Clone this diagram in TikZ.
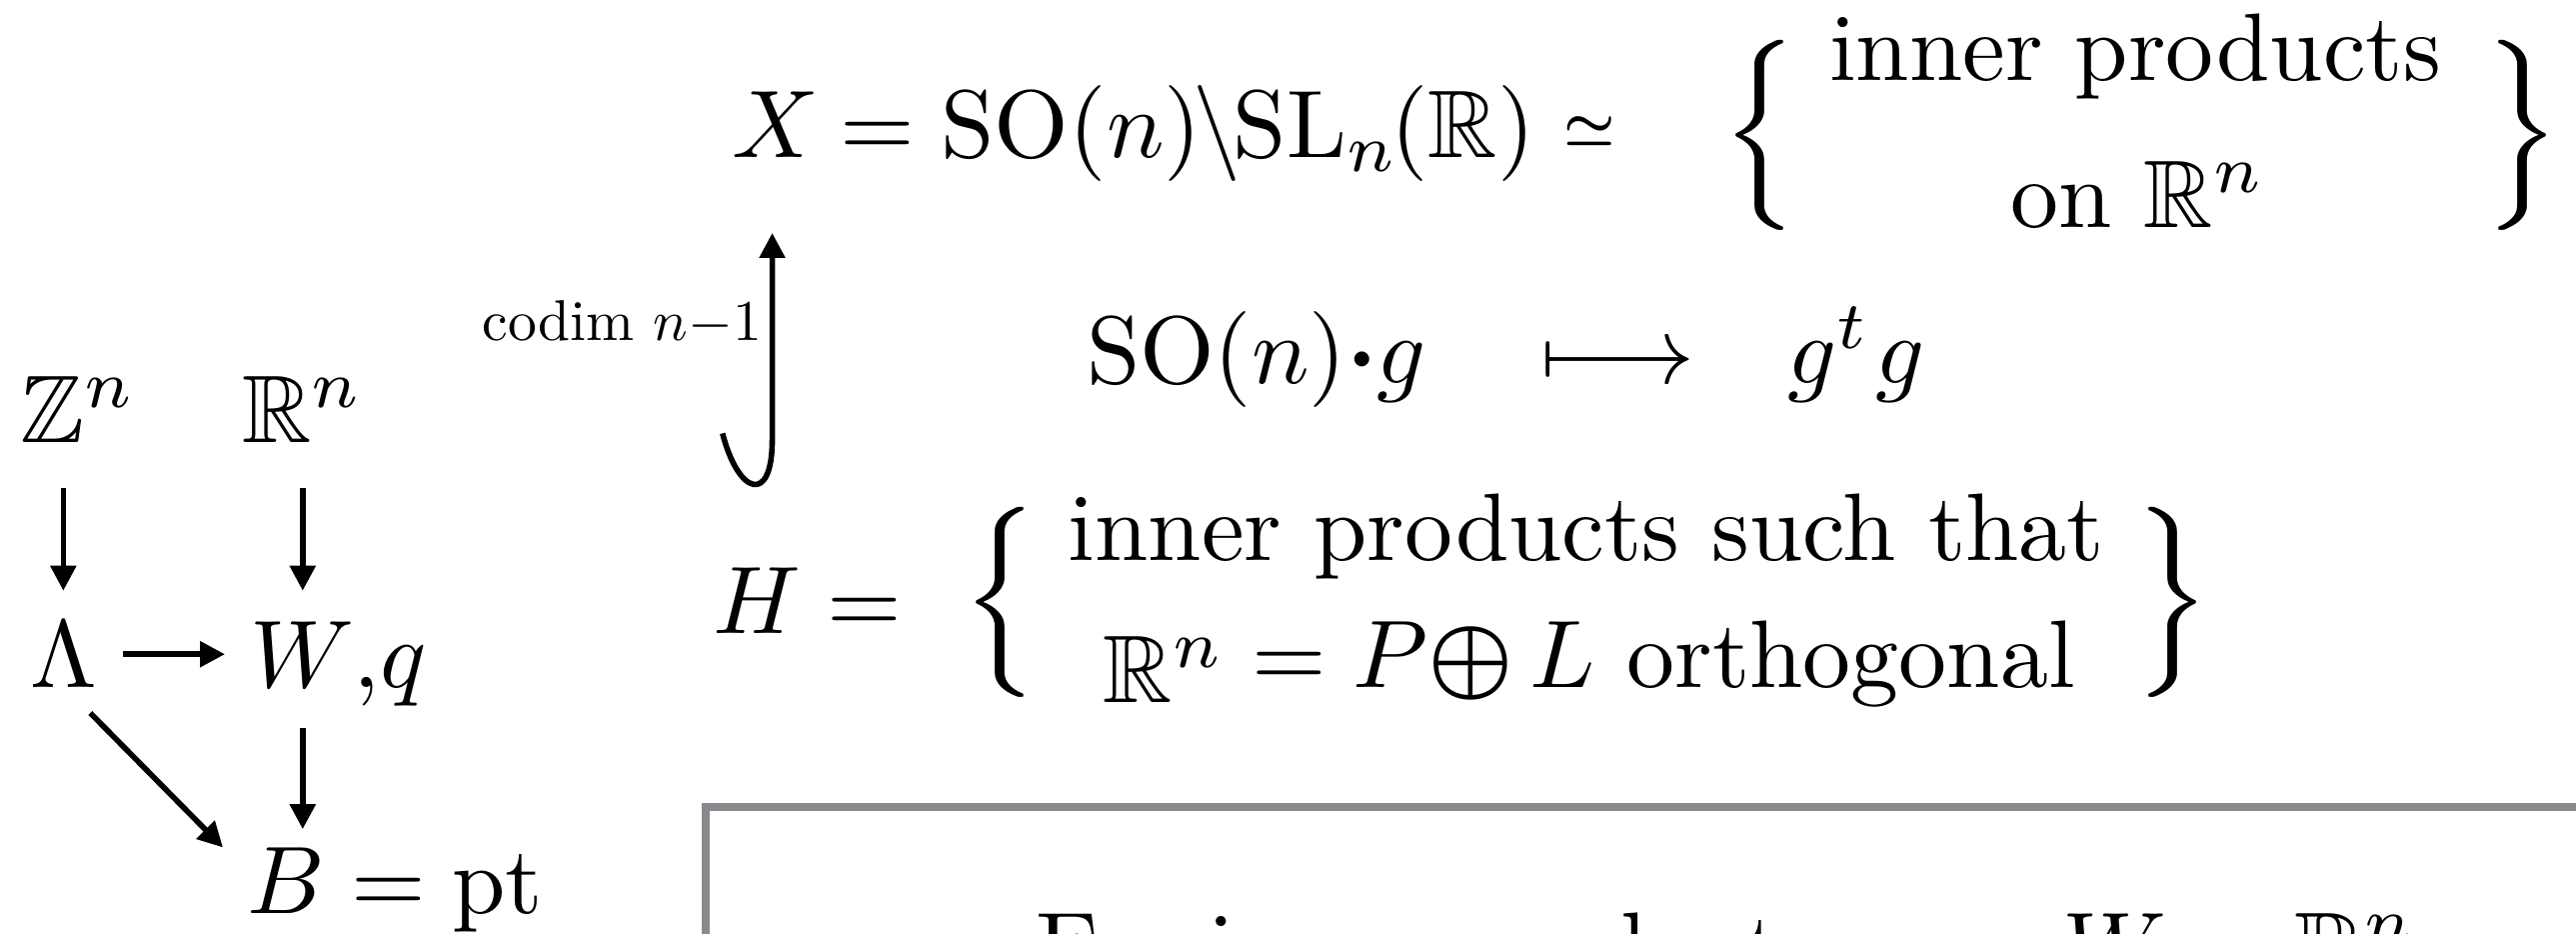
\documentclass[tikz,border=0pt]{standalone}
\usepackage{amsmath,amssymb,graphicx}
\usetikzlibrary{arrows.meta,calc}
\definecolor{boxgray}{RGB}{136,138,142}
\tikzset{
  txt/.style={inner sep=0pt, outer sep=0pt, anchor=base west},
  arr/.style={line width=0.58pt, -{Triangle[length=2.6pt,width=2.6pt]}},
  bracenode/.style={inner sep=0pt, outer sep=0pt},
}
\newcommand{\thickbr}[1]{\rlap{\resizebox*{7.3pt}{19.8pt}{$\bigg#1$}}\kern0.3pt\resizebox*{7.3pt}{19.8pt}{$\bigg#1$}}
\newcommand{\lbr}{\thickbr\{}
\newcommand{\rbr}{\thickbr\}}
\begin{document}
\begin{tikzpicture}[x=0.1041667pt, y=-0.1041667pt]
\fill[white] (0,0) rectangle (2577,933);
\clip (0,0) rectangle (2577,933);

% left diagram
\node[txt] (Zn) at (20,442) {$\mathbb{Z}^n$};
\node[txt] (Rn) at (242,442) {$\mathbb{R}^n$};
\node[txt] (Lam) at (30,687) {$\Lambda$};
\node[txt] (Wq) at (250,687) {$W{,}q$};
\node[txt] (Bn) at (247,913) {$B$};
\node[txt] (Bpt) at (Bn.base east) {$\;= \mathrm{pt}$};

\draw[arr, shorten <=4.8pt, shorten >=3.2pt] (Lam.north |- Zn.south) -- (Lam.north);
\draw[arr, shorten <=4.8pt, shorten >=3.2pt] (Rn.south) -- (Rn.south |- Wq.north);
\draw[arr, shorten <=2.7pt, shorten >=2.6pt] (Lam.east) -- (Lam.east -| Wq.west);
\draw[arr, shorten <=2.3pt, shorten >=1.9pt] (Rn.south |- Wq.south) -- (Rn.south |- Bn.north);
\draw[arr] ($(Lam.south)+(27,26)$) -- ($(Bn.north west)+(-24,0)$);

% top row
\node[txt] (Xn) at (732,157) {$X$};
\node[txt] (Xr) at (Xn.base east) {$\mkern4mu=\mathrm{SO}(n)\mkern-1.5mu\backslash\mkern-1.5mu\mathrm{SL}_n\mkern-1.5mu(\mathbb{R})$};
\node[inner sep=0pt] (iso) at (1590,131) {\scalebox{0.6}{$\boldsymbol{\simeq}$}};
\node[bracenode, anchor=west] (lb1) at (1724,135) {\lbr};
\node[txt, anchor=base] (t1) at (2136,80) {inner products};
\node[txt, anchor=base] (t2) at (2139,227) {on $\mathbb{R}^n$};
\node[bracenode, anchor=east] (rb1) at (2560,135) {\rbr};

% middle row
\node[txt, anchor=base east] (cod) at (762,340) {\scalebox{0.6}{codim $n{-}1$}};
\node[txt] (so) at (1087,383) {$\mathrm{SO}(n){\boldsymbol{\cdot}}g$};
\node[txt] (mt) at (1541,383) {$\longmapsto$};
\node[txt] (gg) at (1788,383) {$g^t\mkern1mu g$};

% H row
\node[txt] (Hn) at (713,633) {$H$};
\node[txt] (Heq) at (Hn.base east) {$\;=$};
\node[bracenode, anchor=west] (lb2) at (964,602) {\lbr};
\node[txt, anchor=base] (h1) at (1587,560) {inner products such that};
\node[txt, anchor=base] (h2) at (1590,687) {\raisebox{-1.6pt}{$\mathbb{R}^n$}${}= P\mkern-4mu\boldsymbol{\oplus}\mkern-1mu L$ orthogonal};
\node[bracenode, anchor=east] (rb2) at (2210,602) {\rbr};

% hook arrow H -> X
\coordinate (hk) at ($(Hn.north)+(-34,-134)$);
\draw[arr] (hk) .. controls +(16,62) and +(0,65) .. ($(Xn.south)+(-3,283)$) -- ($(Xn.south)+(-3,76)$);

% bottom box
\draw[boxgray, line width=0.83pt] (706,807) rectangle (2700,1300);
\node[txt] (ft) at (1036,979) {For inner products $q$ on $W \simeq \mathbb{R}^n$};
\end{tikzpicture}
\end{document}
